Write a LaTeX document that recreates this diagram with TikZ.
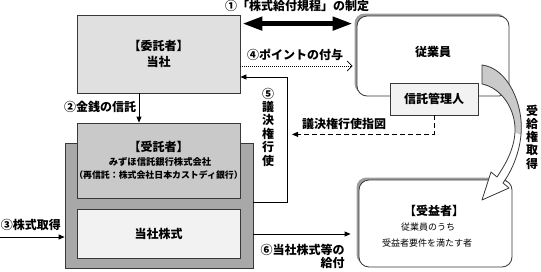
\documentclass[tikz,border=0pt]{standalone}
\usepackage{fontspec}
\setmainfont{Noto Sans CJK JP}
\usetikzlibrary{calc,arrows.meta,positioning,shadows}
\definecolor{boxgray}{gray}{0.88}
\definecolor{trustgray}{gray}{0.79}
\definecolor{outergray}{gray}{0.66}
\definecolor{palegray}{gray}{0.95}
\definecolor{edgegray}{gray}{0.22}
\definecolor{shadowgray}{gray}{0.62}
\tikzset{
	box/.style={
		draw=edgegray, line width=0.8pt, rectangle,
		inner sep=0pt, text=black, align=center,
		font=\fontsize{12}{16}\selectfont\bfseries
	},
	roundbox/.style={
		box, fill=white, rounded corners=10pt,
		drop shadow={shadow xshift=-2.5pt, shadow yshift=2.5pt,
			fill=shadowgray, opacity=1}
	},
	label_text/.style={inner sep=0pt, font=\fontsize{12}{14}\selectfont\bfseries},
	small_text/.style={inner sep=0pt, font=\fontsize{9.3}{11}\selectfont\bfseries},
	thin_text/.style={inner sep=0pt, font=\fontsize{9}{11}\selectfont},
	flow_arrow/.style={-{Triangle[length=6pt,width=5pt]}, line width=0.8pt},
	point_arrow/.style={-{Straight Barb[length=5pt,width=10pt]}, line width=0.7pt,
		dash pattern=on 1pt off 1pt},
	order_arrow/.style={flow_arrow, dash pattern=on 5pt off 3pt},
	rule_arrow/.style={{Triangle[length=20pt,width=13pt]}-{Triangle[length=20pt,width=13pt]},
		line width=4.5pt}
}

\begin{document}
\begin{tikzpicture}[x=1pt,y=-1pt]
	\useasboundingbox (0,0) rectangle (541,271);
	% left side: company and trust
	\node[box, fill=boxgray, minimum width=163pt, minimum height=78pt] (truster) at (158.5,54) {【委託者】\\当社};
	\node[box, fill=outergray, minimum width=188pt, minimum height=125pt] (trust) at (159,205.5) {};
	\node[box, fill=trustgray, minimum width=163pt, minimum height=75pt] (trustee) at (158.5,160.5) {};
	\node[label_text] (trustee_title) at (158.5,147) {【受託者】};
	\node[small_text] (trustee_name) at (160,162) {みずほ信託銀行株式会社};
	\node[small_text, font=\fontsize{8.9}{11}\selectfont\bfseries] (trustee_sub) at (158.5,175) {（再信託：株式会社日本カストディ銀行）};
	\node[box, fill=palegray, minimum width=163pt, minimum height=49pt] (shares) at (158.5,233.5) {当社株式};
	% right side: employees
	\node[roundbox, minimum width=152pt, minimum height=80pt] (employee) at (433,56) {};
	\node[label_text] (employee_text) at (433,52) {従業員};
	\node[box, fill=palegray, minimum width=88pt, minimum height=32pt] (admin) at (434,99) {信託管理人};
	\node[roundbox, minimum width=153pt, minimum height=87pt] (beneficiary) at (435.5,223.5) {};
	\node[label_text] (beneficiary_title) at (434,211) {【受益者】};
	\node[thin_text] (beneficiary_who) at (428,227) {従業員のうち};
	\node[thin_text] (beneficiary_req) at (427,243) {受益者要件を満たす者};
	% labels
	\node[label_text] (rule_label) at (297,6) {①「株式給付規程」の制定};
	\node[label_text] (money_label) at (100,107) {②金銭の信託};
	\node[label_text] (buy_label) at (31,225) {③株式取得};
	\node[label_text] (point_label) at (295,55) {④ポイントの付与};
	\node[label_text, align=center, font=\fontsize{12}{13.4}\selectfont\bfseries] (vote_label) at (268,127) {⑤\\議\\決\\権\\行\\使};
	\node[label_text] (order_label) at (344,124) {議決権行使指図};
	\node[label_text, align=center, font=\fontsize{12}{13.3}\selectfont\bfseries] (receive_label) at (532,137) {受\\給\\権\\取\\得};
	\node[label_text, align=right, font=\fontsize{12}{13}\selectfont\bfseries] (give_label) at (302.5,256.5) {⑥当社株式等の\\給付\hspace{2pt}};
	% connectors
	\draw[rule_arrow] ($(truster.north east)+(2,9)$) -- ($(employee.north west)+(-4,8)$);
	\draw[point_arrow] ($(truster.east)+(0,12)$) -- ($(truster.east -| employee.west)+(-4,12)$);
	\draw[flow_arrow] ($(trust.east)+(0,-3.5)$) -| ($(truster.east)+(47,23)$) -- ($(truster.east)+(0,23)$);
	\draw[order_arrow] (admin.south) |- ($(admin.south)+(-142,19)$);
	\draw[flow_arrow] ($(truster.south)+(-19.5,0)$) -- ($(trustee.north)+(-19.5,0)$);
	\coordinate (buy) at (0,237);
	\draw[flow_arrow] (buy) -- (buy -| trust.west);
	\coordinate (give) at ($(trust.east)+(0,28.5)$);
	\draw[flow_arrow] (give) -- ($(give -| beneficiary.west)+(-8,0)$);
	% curved arrow
	\fill[white] (482,65) .. controls (508,68) and (524,105) .. (521,135) .. controls (519,155) and (511,172) .. (503,183) -- (509,188) -- (482,200) -- (491,172) -- (497,177) .. controls (505,165) and (514,150) .. (515,132) .. controls (516,110) and (502,88) .. (482,84) -- cycle;
	\fill[boxgray!90!black] (482,65) .. controls (508,68) and (524,105) .. (521,135) -- (515,132) .. controls (516,110) and (502,88) .. (482,84) -- cycle;
	\draw[edgegray, line width=0.8pt, line join=round] (482,65) .. controls (508,68) and (524,105) .. (521,135) .. controls (519,155) and (511,172) .. (503,183) -- (509,188) -- (482,200) -- (491,172) -- (497,177) .. controls (505,165) and (514,150) .. (515,132) .. controls (516,110) and (502,88) .. (482,84) -- cycle;
\end{tikzpicture}
\end{document}
